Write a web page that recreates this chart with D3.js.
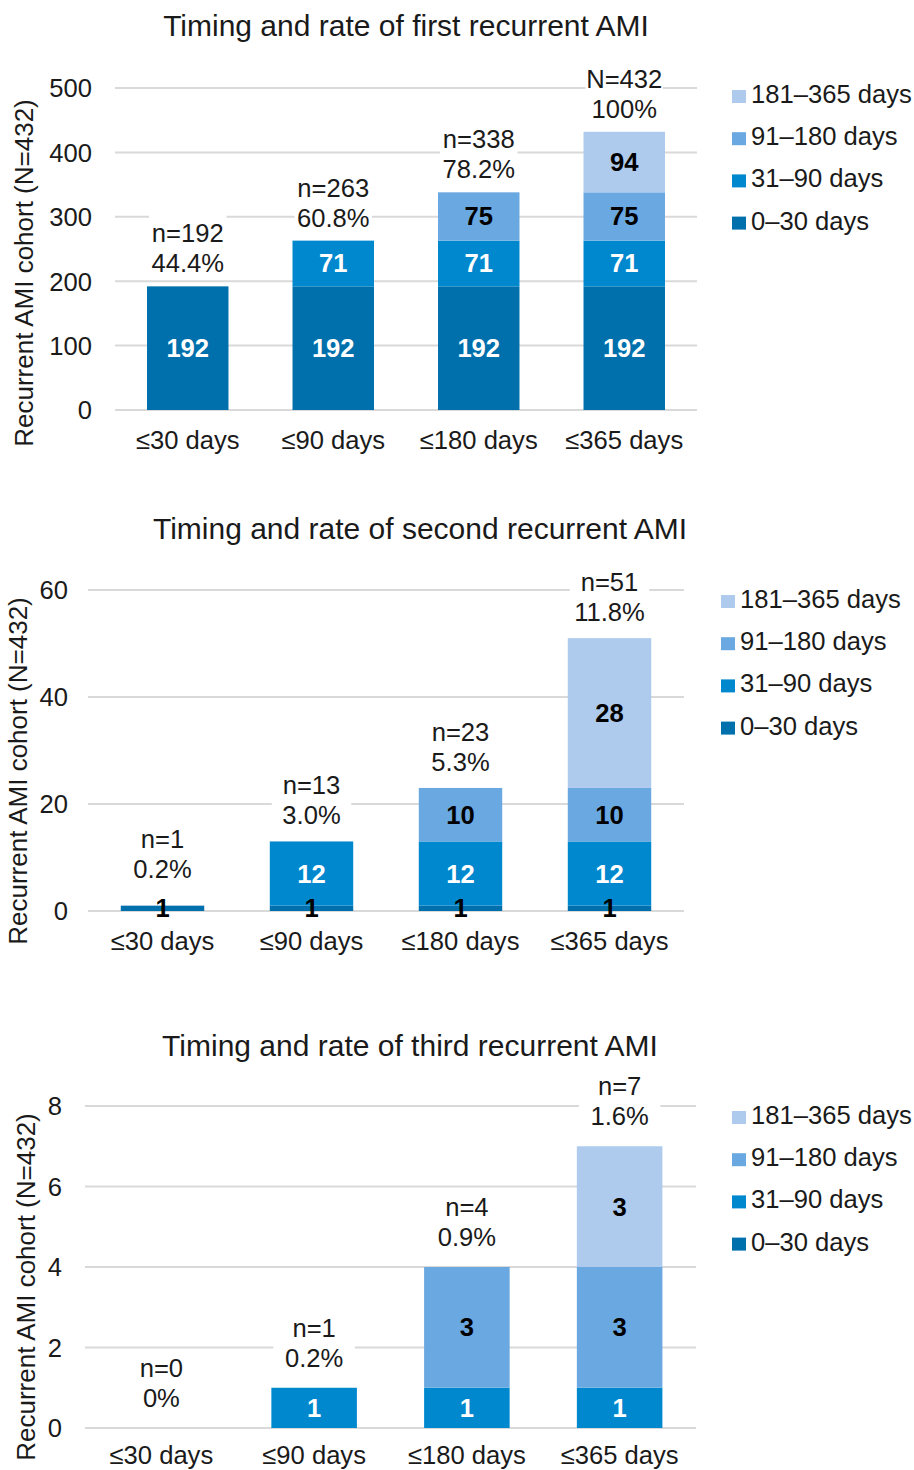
<!DOCTYPE html>
<html>
<head>
<meta charset="utf-8">
<script src="https://cdn.jsdelivr.net/npm/d3@7"></script>
<style>
  html, body { margin: 0; padding: 0; background: #fff; }
  svg { display: block; font-family: "Liberation Sans", Arial, sans-serif; }
</style>
</head>
<body>
<svg id="chart" width="914" height="1470"></svg>
<script>
// ---- Shared categories and series ----
const categories = ["≤30 days", "≤90 days", "≤180 days", "≤365 days"];
const seriesNames = ["0–30 days", "31–90 days", "91–180 days", "181–365 days"];

// ---- First recurrent AMI ----
const first0to30    = [192, 192, 192, 192];
const first31to90   = [0, 71, 71, 71];
const first91to180  = [0, 0, 75, 75];
const first181to365 = [0, 0, 0, 94];
const firstCountLabels = ["n=192", "n=263", "n=338", "N=432"];
const firstPctLabels   = ["44.4%", "60.8%", "78.2%", "100%"];
const firstTicks = [0, 100, 200, 300, 400, 500];

// ---- Second recurrent AMI ----
const second0to30    = [1, 1, 1, 1];
const second31to90   = [0, 12, 12, 12];
const second91to180  = [0, 0, 10, 10];
const second181to365 = [0, 0, 0, 28];
const secondCountLabels = ["n=1", "n=13", "n=23", "n=51"];
const secondPctLabels   = ["0.2%", "3.0%", "5.3%", "11.8%"];
const secondTicks = [0, 20, 40, 60];

// ---- Third recurrent AMI ----
const third0to30    = [0, 0, 0, 0];
const third31to90   = [0, 1, 1, 1];
const third91to180  = [0, 0, 3, 3];
const third181to365 = [0, 0, 0, 3];
const thirdCountLabels = ["n=0", "n=1", "n=4", "n=7"];
const thirdPctLabels   = ["0%", "0.2%", "0.9%", "1.6%"];
const thirdTicks = [0, 2, 4, 6, 8];

// ---- Styling ----
const seriesColors = ["#0070ad", "#0088cf", "#6aa8e1", "#aecaec"];
const seriesLabelColors = ["#ffffff", "#ffffff", "#000000", "#000000"];
const textColor = "#1a1a1a";
const gridColor = "#d9d9d9";
const fontSize = 25.6;

const svg = d3.select("#chart");
svg.append("rect").attr("width", 914).attr("height", 1470).attr("fill", "#fff");

function drawPanel(cfg) {
  const rows = categories.map((c, i) => {
    const r = { category: c };
    cfg.series.forEach((arr, k) => { r[seriesNames[k]] = arr[i]; });
    return r;
  });
  const stacked = d3.stack().keys(seriesNames)(rows);

  const x = d3.scaleBand()
    .domain(categories)
    .range([cfg.x0, cfg.x1])
    .paddingInner(0.44)
    .paddingOuter(0.22);
  const y = d3.scaleLinear()
    .domain([0, d3.max(cfg.ticks)])
    .range([cfg.y0, cfg.yTop]);

  const g = svg.append("g");

  // Title
  g.append("text")
    .attr("x", cfg.titleX).attr("y", cfg.titleY)
    .attr("text-anchor", "middle")
    .attr("font-size", 30).attr("fill", textColor)
    .text(cfg.title);

  // Y tick labels via axis
  const yAxis = d3.axisLeft(y).tickValues(cfg.ticks).tickSize(0).tickPadding(0);
  const axisG = g.append("g")
    .attr("transform", `translate(${cfg.tickX},0)`)
    .call(yAxis);
  axisG.select(".domain").remove();
  axisG.selectAll("text")
    .attr("font-size", fontSize)
    .attr("font-family", "Liberation Sans, Arial, sans-serif")
    .attr("fill", textColor)
    .attr("dy", "0.35em");

  // Horizontal gridlines
  g.append("g").selectAll("line")
    .data(cfg.ticks)
    .join("line")
    .attr("x1", cfg.x0).attr("x2", cfg.x1)
    .attr("y1", d => y(d)).attr("y2", d => y(d))
    .attr("stroke", gridColor).attr("stroke-width", 2);

  // Y axis title
  g.append("text")
    .attr("transform", `translate(${cfg.yTitleX},${cfg.yTitleY}) rotate(-90)`)
    .attr("text-anchor", "middle")
    .attr("font-size", 26).attr("fill", textColor)
    .text("Recurrent AMI cohort (N=432)");

  // Category labels
  g.append("g").selectAll("text")
    .data(categories)
    .join("text")
    .attr("x", d => x(d) + x.bandwidth() / 2)
    .attr("y", cfg.y0 + cfg.catOffset)
    .attr("text-anchor", "middle")
    .attr("font-size", fontSize).attr("fill", textColor)
    .text(d => d);

  // Stacked bars
  stacked.forEach((layer, k) => {
    g.append("g").selectAll("rect")
      .data(layer.filter(d => d[1] - d[0] > 0))
      .join("rect")
      .attr("x", d => x(d.data.category))
      .attr("width", x.bandwidth())
      .attr("y", d => y(d[1]))
      .attr("height", d => y(d[0]) - y(d[1]))
      .attr("fill", seriesColors[k]);
  });

  // Segment value labels
  stacked.forEach((layer, k) => {
    g.append("g").selectAll("text")
      .data(layer.filter(d => d[1] - d[0] > 0))
      .join("text")
      .attr("x", d => x(d.data.category) + x.bandwidth() / 2)
      .attr("y", d => (y(d[0]) + y(d[1])) / 2)
      .attr("dy", "0.35em")
      .attr("text-anchor", "middle")
      .attr("font-size", fontSize).attr("font-weight", "bold")
      .attr("fill", d => (y(d[0]) - y(d[1]) < 22) ? "#000000" : seriesLabelColors[k])
      .text(d => d[1] - d[0]);
  });

  // Totals above each bar (count + share of cohort)
  const totals = rows.map(r => d3.sum(seriesNames, s => r[s]));
  const lineGap = 30;
  categories.forEach((c, i) => {
    const top = y(totals[i]);
    const pctBase = Math.min(top - cfg.labelGap, cfg.y0 - cfg.labelClear);
    const nBase = pctBase - lineGap;
    const cx = x(c) + x.bandwidth() / 2;
    g.append("rect")
      .attr("x", cx - x.bandwidth() / 2 + 2)
      .attr("width", x.bandwidth() - 4)
      .attr("y", nBase - 28)
      .attr("height", (pctBase + 6) - (nBase - 28))
      .attr("fill", "#fff");
    g.append("text")
      .attr("x", cx).attr("y", nBase)
      .attr("text-anchor", "middle")
      .attr("font-size", fontSize).attr("fill", textColor)
      .text(cfg.countLabels[i]);
    g.append("text")
      .attr("x", cx).attr("y", pctBase)
      .attr("text-anchor", "middle")
      .attr("font-size", fontSize).attr("fill", textColor)
      .text(cfg.pctLabels[i]);
  });

  // Legend (latest interval on top)
  const legendOrder = d3.range(seriesNames.length).reverse();
  const leg = g.append("g").selectAll("g")
    .data(legendOrder)
    .join("g")
    .attr("transform", (d, j) => `translate(0,${cfg.legendY + j * 42.2})`);
  leg.append("rect")
    .attr("x", cfg.legendX - 19).attr("y", -13)
    .attr("width", 14).attr("height", 13)
    .attr("fill", d => seriesColors[d]);
  leg.append("text")
    .attr("x", cfg.legendX).attr("y", 0)
    .attr("font-size", fontSize).attr("fill", textColor)
    .text(d => seriesNames[d]);
}

drawPanel({
  title: "Timing and rate of first recurrent AMI",
  series: [first0to30, first31to90, first91to180, first181to365],
  countLabels: firstCountLabels, pctLabels: firstPctLabels, ticks: firstTicks,
  titleX: 406, titleY: 36,
  x0: 115, x1: 697, y0: 410, yTop: 88,
  tickX: 92, yTitleX: 33, yTitleY: 273,
  legendX: 751, legendY: 103, catOffset: 39,
  labelGap: 14, labelClear: 14
});

drawPanel({
  title: "Timing and rate of second recurrent AMI",
  series: [second0to30, second31to90, second91to180, second181to365],
  countLabels: secondCountLabels, pctLabels: secondPctLabels, ticks: secondTicks,
  titleX: 420, titleY: 539,
  x0: 88, x1: 684, y0: 911, yTop: 590,
  tickX: 68, yTitleX: 27, yTitleY: 771,
  legendX: 740, legendY: 608, catOffset: 39,
  labelGap: 17, labelClear: 33
});

drawPanel({
  title: "Timing and rate of third recurrent AMI",
  series: [third0to30, third31to90, third91to180, third181to365],
  countLabels: thirdCountLabels, pctLabels: thirdPctLabels, ticks: thirdTicks,
  titleX: 410, titleY: 1056,
  x0: 85, x1: 696, y0: 1428, yTop: 1106,
  tickX: 62, yTitleX: 35, yTitleY: 1287,
  legendX: 751, legendY: 1124, catOffset: 36,
  labelGap: 21, labelClear: 21
});
</script>
</body>
</html>
